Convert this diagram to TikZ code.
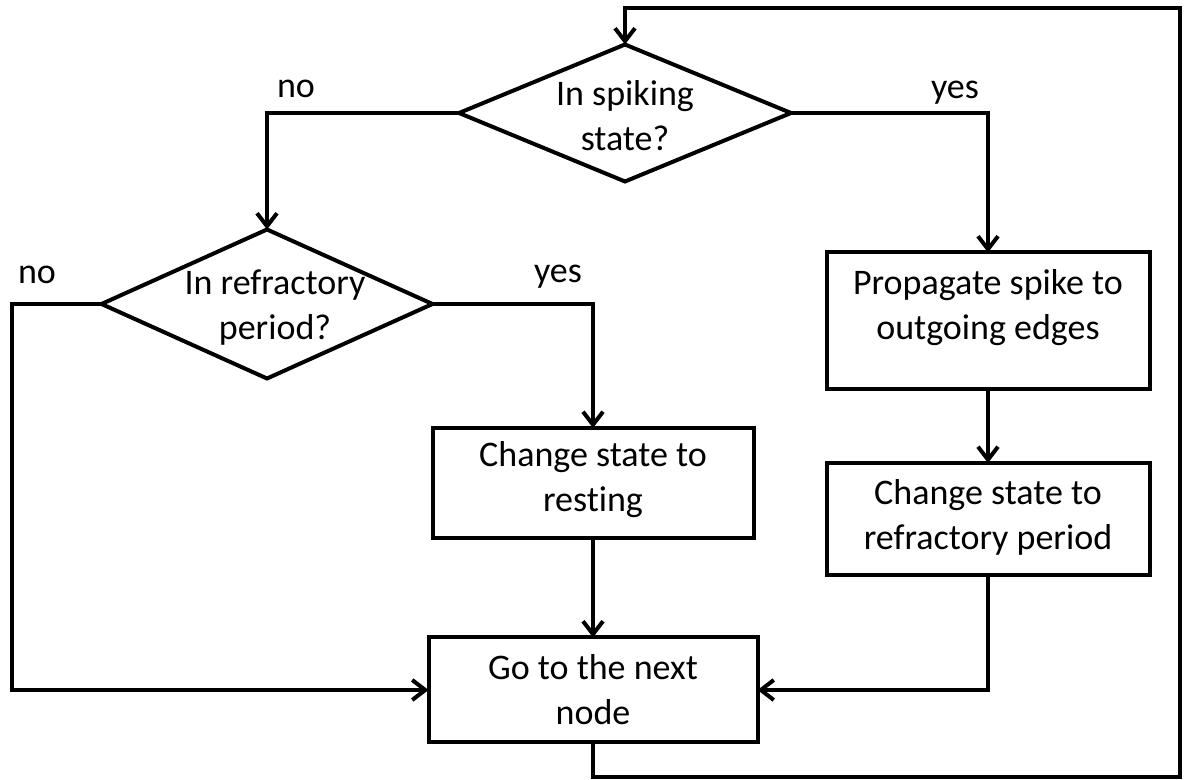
\documentclass[tikz,border=0pt]{standalone}
\usepackage{fontspec}
\setmainfont{Carlito}[Ligatures=NoCommon]
\usetikzlibrary{shapes.geometric,arrows.meta}
\begin{document}
\begin{tikzpicture}[x=0.5pt,y=-0.5pt,
  every node/.style={font=\fontsize{18}{22.5}\selectfont},
  decision/.style={draw, line width=2pt, diamond, inner sep=0pt, outer sep=0pt},
  procbox/.style={draw, line width=2pt, rectangle, inner sep=0pt, outer sep=0pt},
  txt/.style={align=center, inner sep=0pt},
  conn/.style={line width=2pt},
  arr/.style={conn, -{Straight Barb[length=6.5pt,width=10pt,line width=2pt]}}]
\useasboundingbox (0,0) rectangle (1185,780);
% decisions
\node[decision, minimum width=166pt, minimum height=68.5pt] (d1) at (625,113) {};
\node[txt] (t1) at (625,116) {In spiking\\state?};
\node[decision, minimum width=165.5pt, minimum height=74.5pt] (d2) at (267,304) {};
\node[txt] (t2) at (275,308) {In refractory\\period?};
% boxes
\node[procbox, minimum width=161.5pt, minimum height=68.5pt] (prop) at (988,321) {};
\node[txt] (tp) at (988,308) {Propagate spike to\\outgoing edges};
\node[procbox, minimum width=161.5pt, minimum height=56pt] (refr) at (988,519) {};
\node[txt] (tr) at (988,517) {Change state to\\refractory period};
\node[procbox, minimum width=160.5pt, minimum height=55pt] (rest) at (593,483) {};
\node[txt] (trs) at (593,480) {Change state to\\resting};
\node[procbox, minimum width=164.5pt, minimum height=52.5pt] (go) at (593,690) {};
\node[txt] (tg) at (593,690) {Go to the next\\node};
% labels
\node[txt] (l1) at (296,89) {no};
\node[txt] (l2) at (955,93) {yes};
\node[txt] (l3) at (37,275) {no};
\node[txt] (l4) at (558,277) {yes};
% helper coordinates
\coordinate (lc) at (12,0);
\coordinate (br) at (1180,777);
\coordinate (tr) at (1180,8);
% connectors
\draw[arr] (d1.west) -| (d2.north);
\draw[arr] (d1.east) -| (prop.north);
\draw[arr] (d2.west) -| (lc |- go.west) -- (go.west);
\draw[arr] (d2.east) -| (rest.north);
\draw[arr] (rest.south) -- (go.north);
\draw[arr] (prop.south) -- (refr.north);
\draw[arr] (refr.south) |- (go.east);
\draw[arr] (go.south) |- (br) -- (tr) -| (d1.north);
\end{tikzpicture}
\end{document}
